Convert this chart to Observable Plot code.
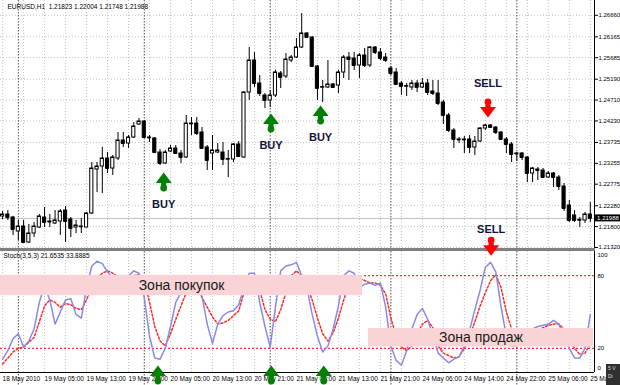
<!DOCTYPE html>
<html><head><meta charset="utf-8">
<script src="https://cdn.jsdelivr.net/npm/d3@7"></script>
<script src="https://cdn.jsdelivr.net/npm/@observablehq/plot@0.6"></script>
<style>
body{margin:0;background:#fff;}
#wrap{position:relative;width:620px;height:385px;overflow:hidden;background:#fff;font-family:"Liberation Sans",Arial,sans-serif;}
#wrap svg{position:absolute;left:0;overflow:visible;}
#sep{position:absolute;left:0;top:248px;width:595px;height:3px;background:#808080;}
#corner{position:absolute;left:606px;top:364px;width:14px;height:21px;background:#303030;color:#ddd;font-size:5px;line-height:8px;padding-left:2px;box-sizing:border-box;}
</style></head><body><div id="wrap"></div>
<script>
// ---- data (EURUSD H1, bars 18 May 21:00 .. 25 May 14:00) ----
const opens = [1.22032,1.22078,1.22009,1.21687,1.21802,1.21434,1.21641,1.21779,1.22009,1.21917,
1.21871,1.21917,1.2217,1.21963,1.21779,1.21802,1.21779,1.22101,1.23113,1.23182,
1.23366,1.23136,1.23366,1.2378,1.23711,1.23849,1.24148,1.24217,1.23849,1.23826,
1.23504,1.23251,1.23527,1.23596,1.23481,1.23389,1.24171,1.24171,1.23964,1.23619,
1.23481,1.23504,1.23504,1.23343,1.23343,1.23688,1.23389,1.24884,1.2562,1.25091,
1.24815,1.247,1.24815,1.25321,1.25252,1.2562,1.25689,1.25919,1.26241,1.26149,
1.25482,1.24999,1.24999,1.25068,1.25045,1.25344,1.25689,1.25666,1.25505,1.25735,
1.25505,1.25919,1.25804,1.25689,1.25436,1.25344,1.25091,1.25022,1.24999,1.25091,
1.24999,1.25091,1.24907,1.24861,1.24654,1.24355,1.2401,1.23803,1.23803,1.23803,
1.23619,1.23757,1.24056,1.24125,1.24079,1.23964,1.23803,1.23688,1.23481,1.23481,
1.23389,1.23021,1.23113,1.2309,1.22929,1.23021,1.22929,1.22722,1.22285,1.22055,
1.2194,1.2194,1.22078];
const highs = [1.22147,1.2217,1.22032,1.2194,1.2194,1.21848,1.21894,1.22078,1.22239,1.22078,
1.2217,1.22193,1.22262,1.22009,1.2194,1.21986,1.22124,1.23274,1.23274,1.23619,
1.23504,1.23435,1.23964,1.23964,1.23895,1.24194,1.24286,1.2424,1.23895,1.23849,
1.23573,1.2355,1.23665,1.23665,1.2355,1.24355,1.24309,1.24309,1.24079,1.23665,
1.23895,1.23711,1.23734,1.2355,1.23711,1.23757,1.24907,1.25919,1.25804,1.25275,
1.24861,1.2493,1.2539,1.25367,1.25781,1.25735,1.26126,1.26701,1.26264,1.26172,
1.25505,1.2516,1.2562,1.25091,1.2539,1.25735,1.25804,1.25804,1.25781,1.25896,
1.25942,1.25942,1.25896,1.25781,1.25482,1.25436,1.25137,1.25091,1.2516,1.2516,
1.25206,1.25183,1.2516,1.2516,1.247,1.24401,1.24056,1.23849,1.23872,1.23895,
1.23872,1.24079,1.24148,1.24148,1.24102,1.23987,1.23849,1.23734,1.23504,1.23504,
1.23412,1.23159,1.23159,1.23136,1.23067,1.23044,1.22975,1.22791,1.224,1.2217,
1.22009,1.22124,1.22354];
const lows = [1.21963,1.2194,1.21595,1.2148,1.21411,1.21411,1.21549,1.21756,1.21779,1.21779,
1.21848,1.21595,1.21434,1.21549,1.21641,1.21641,1.21779,1.22078,1.22584,1.22561,
1.23021,1.22975,1.2332,1.23619,1.23596,1.23826,1.24125,1.23826,1.23734,1.23481,
1.23205,1.23228,1.23504,1.23458,1.23251,1.23366,1.23895,1.23895,1.23573,1.2309,
1.2309,1.23481,1.23205,1.22929,1.23274,1.23389,1.23366,1.247,1.24999,1.24792,
1.24516,1.24539,1.24769,1.24976,1.25206,1.25574,1.25666,1.25896,1.26126,1.25459,
1.247,1.24654,1.24976,1.24976,1.24861,1.25206,1.2516,1.2539,1.25206,1.25459,
1.25459,1.25758,1.2562,1.25574,1.25275,1.25045,1.24815,1.24792,1.2493,1.24884,
1.24976,1.24815,1.24815,1.24585,1.24148,1.23964,1.23596,1.23711,1.23481,1.23481,
1.23435,1.23734,1.2401,1.24056,1.23918,1.2378,1.23481,1.23274,1.23297,1.2332,
1.22814,1.22814,1.2286,1.22906,1.22906,1.22699,1.2263,1.22147,1.21894,1.21894,
1.21779,1.21871,1.21894];
const closes = [1.22078,1.22009,1.21733,1.21802,1.21434,1.21641,1.21802,1.22032,1.21894,1.21905,
1.2194,1.22147,1.21917,1.21756,1.21825,1.21795,1.22101,1.23136,1.23182,1.23366,
1.23136,1.23389,1.2378,1.23711,1.23849,1.24102,1.24217,1.23849,1.23838,1.23504,
1.23251,1.23504,1.23596,1.23481,1.23389,1.24171,1.2416,1.23941,1.23596,1.2332,
1.2355,1.2355,1.23343,1.23355,1.23688,1.23412,1.24884,1.2562,1.25091,1.24861,
1.247,1.24815,1.25344,1.25229,1.25643,1.25689,1.25919,1.26241,1.26149,1.25482,
1.24976,1.2501,1.25068,1.24999,1.25344,1.25689,1.25643,1.25505,1.25735,1.25505,
1.25919,1.25804,1.25666,1.2562,1.25321,1.25068,1.25022,1.25033,1.25091,1.24999,
1.25091,1.24884,1.24861,1.24631,1.24355,1.2401,1.23803,1.23792,1.23792,1.23619,
1.23757,1.24056,1.24125,1.24079,1.23964,1.23803,1.23688,1.23458,1.2347,1.23389,
1.23021,1.23136,1.2309,1.22929,1.23021,1.22929,1.22722,1.22216,1.2194,1.2194,
1.21952,1.22078,1.21988];
const stochK = [11,18,28,32,21,26,36,58,72,60,
40,50,60,61,48,45,70,88,92,90,
83,78,76,78,80,84,82,62,30,12,
11,20,38,58,66,75,78,72,63,40,
24,40,47,50,51,56,70,82,82,58,
38,21,54,84,88,89,91,80,70,48,
30,17,22,36,55,80,84,82,70,73,
74,72,74,54,22,10,6,18,36,48,
53,44,30,16,12,8,11,13,22,35,
52,68,87,91,83,54,30,22,22,28,
33,36,38,39,40,43,40,30,20,12,
12,20,48];
const stochD = [7,12,17,20,21,25,29,42,55,60,
58,54,57,56,53,52,60,70,78,82,
84,82,79,78,78,80,81,75,58,38,
26,22,32,44,55,66,74,70,62,54,
46,40,41,43,47,51,66,76,76,68,
52,44,42,52,66,80,84,80,72,60,
45,32,26,33,45,60,72,78,78,76,
74,74,72,65,45,30,21,18,22,32,
40,43,37,22,16,14,12,13,20,30,
42,55,66,76,81,70,50,36,28,24,
28,32,35,37,39,40,40,36,28,20,
15,16,24];
const priceTicks = [1.26660,1.26165,1.25685,1.25190,1.24710,1.24230,1.23735,1.23255,1.22775,1.22280,1.21800,1.21320];
const timeBars = [0,8,16,24,32,40,48,56,64,72,80,88,96,104,112];
const timeLabels = ["18 May 2010","19 May 05:00","19 May 13:00","19 May 21:00","20 May 05:00","20 May 13:00","20 May 21:00","21 May 05:00","21 May 13:00","21 May 21:00","24 May 06:00","24 May 14:00","24 May 22:00","25 May 06:00","25 May 14:00"];
const gridBars = [0,4,8,12,16,20,24,28,32,36,40,44,48,52,56,60,64,68,72,76,80,84,88,92,96,100,104,108,112];
const daySeparators = [3,27,51,74,98];
const stochLevels = [80,20];
const headerValues = [1.21823,1.22004,1.21748,1.21988];
const stochParams = [3,5,3];
const stochValues = [21.6535,33.8885];
const buyTop = [{bar:30.7, price:1.23044},{bar:51.15, price:1.24401},{bar:60.6, price:1.24585}];
const sellTop = [{bar:92.5, price:1.24309}];
const buyStoch = [{bar:29.6, v:5.8},{bar:51.2, v:5.8},{bar:61.2, v:5.8}];
const sellStoch = [{bar:93.1, v:96.5}];
const zones = [{label:"Зона покупок", x1:-0.4, x2:68.6, v1:63.5, v2:80.3},
               {label:"Зона продаж", x1:69.7, x2:112.6, v1:21, v2:36.3}];

// ---- drawing ----
const xDomain = [-0.4, 112.8];
const bars = opens.map((o,i)=>({i, o, h:highs[i], l:lows[i], c:closes[i]}));
const upBars = bars.filter(d=>d.c>=d.o), downBars = bars.filter(d=>d.c<d.o);
const bw = 0.3;
const lastClose = closes[closes.length-1];
const font = "Liberation Sans, Arial, sans-serif";

const arrowUp = {draw(ctx){ctx.moveTo(0,0);ctx.lineTo(8,10.5);ctx.lineTo(2.6,10.5);ctx.lineTo(2.6,15.5);ctx.lineTo(-2.6,15.5);ctx.lineTo(-2.6,10.5);ctx.lineTo(-8,10.5);ctx.closePath();ctx.moveTo(3.4,15.5);ctx.arc(0,15.5,3.4,0,2*Math.PI);}};
const arrowDown = {draw(ctx){ctx.moveTo(0,0);ctx.lineTo(-8,-10.5);ctx.lineTo(-2.6,-10.5);ctx.lineTo(-2.6,-15.5);ctx.lineTo(2.6,-15.5);ctx.lineTo(2.6,-10.5);ctx.lineTo(8,-10.5);ctx.closePath();ctx.moveTo(3.4,-15.5);ctx.arc(0,-15.5,3.4,0,2*Math.PI);}};

const priceChart = Plot.plot({
  width:620, height:250, marginTop:0, marginBottom:0, marginLeft:0, marginRight:26,
  x:{domain:xDomain, axis:null},
  y:{domain:[1.2125,1.27]},
  style:{fontFamily:font, fontSize:"6px", background:"#fff", color:"#000"},
  marks:[
    Plot.ruleX(gridBars, {stroke:"#c4c4c4", strokeDasharray:"1,2"}),
    Plot.ruleY(priceTicks, {stroke:"#c4c4c4", strokeDasharray:"1,2"}),
    Plot.ruleX(daySeparators, {stroke:"#505050", strokeDasharray:"1.5,1.5"}),
    Plot.ruleY([lastClose], {stroke:"#c0c0c0"}),
    Plot.ruleX(bars, {x:"i", y1:"l", y2:"h", stroke:"#000"}),
    Plot.rect(upBars, {x1:d=>d.i-bw, x2:d=>d.i+bw, y1:"o", y2:"c", fill:"#fff", stroke:"#000"}),
    Plot.rect(downBars, {x1:d=>d.i-bw, x2:d=>d.i+bw, y1:"o", y2:"c", fill:"#000", stroke:"#000"}),
    Plot.ruleY(bars, {y:"c", x1:d=>d.i-bw, x2:d=>d.i+bw, stroke:"#000"}),
    Plot.ruleX([xDomain[1]], {stroke:"#000"}),
    Plot.axisY(priceTicks, {anchor:"right", tickSize:3, tickPadding:1, tickFormat:d=>d.toFixed(5), fontSize:6}),
    Plot.rect([lastClose], {x1:()=>113, x2:()=>118, y1:d=>d-0.0008, y2:d=>d+0.0008, fill:"#000"}),
    Plot.text([lastClose], {x:()=>113.3, y:d=>d, text:d=>d.toFixed(5), fill:"#fff", textAnchor:"start", fontSize:6}),
    Plot.text(["EURUSD,H1  " + headerValues.map(v=>v.toFixed(5)).join(" ")], {frameAnchor:"top-left", dx:7, dy:4, lineAnchor:"top", fontSize:6.5}),
    Plot.dot(buyTop, {x:"bar", y:"price", symbol:arrowUp, r:5, fill:"#008000"}),
    Plot.text(buyTop, {x:"bar", y:"price", text:()=>"BUY", dy:32, fontWeight:"bold", fontSize:11, fill:"#141438"}),
    Plot.dot(sellTop, {x:"bar", y:"price", symbol:arrowDown, r:5, fill:"#ff0000"}),
    Plot.text(sellTop, {x:"bar", y:"price", text:()=>"SELL", dy:-34, fontWeight:"bold", fontSize:11, fill:"#141438"})
  ]
});
priceChart.style.top = "0px";

const stochChart = Plot.plot({
  width:620, height:135, marginTop:1, marginBottom:13, marginLeft:0, marginRight:26,
  x:{domain:xDomain, axis:null},
  y:{domain:[0,100], axis:null},
  style:{fontFamily:font, fontSize:"6px", background:"transparent", color:"#000"},
  marks:[
    Plot.ruleX(gridBars, {stroke:"#c4c4c4", strokeDasharray:"1,2"}),
    Plot.ruleX(daySeparators, {y1:()=>100, y2:()=>-10.8, stroke:"#505050", strokeDasharray:"1.5,1.5"}),
    Plot.ruleY(stochLevels, {stroke:"#ff0000", strokeDasharray:"2,2"}),
    Plot.line(stochD, {x:(d,i)=>i, y:d=>d, stroke:"#ff2a2a", strokeDasharray:"2,2"}),
    Plot.line(stochK, {x:(d,i)=>i, y:d=>d, stroke:"#8a8ae6"}),
    Plot.rect(zones, {x1:"x1", x2:"x2", y1:"v1", y2:"v2", fill:"#f9d3d5"}),
    Plot.text(zones, {x:d=>(d.x1+d.x2)/2, y:d=>(d.v1+d.v2)/2, text:"label", fontSize:14, fill:"#1a1a1a"}),
    Plot.ruleY([0], {stroke:"#000"}),
    Plot.ruleX([xDomain[1]], {stroke:"#000"}),
    Plot.text(stochLevels, {y:d=>d, text:d=>String(d), frameAnchor:"right", dx:3, textAnchor:"start", fontSize:6}),
    Plot.text([100], {y:d=>d, text:d=>String(d), frameAnchor:"right", dx:3, dy:4, textAnchor:"start", fontSize:6}),
    Plot.text([0], {y:d=>d, text:d=>String(d), frameAnchor:"right", dx:3, dy:-4, textAnchor:"start", fontSize:6}),
    Plot.text(["Stoch(" + stochParams.join(",") + ") " + stochValues.map(v=>v.toFixed(4)).join(" ")], {frameAnchor:"top-left", dx:3, dy:2, lineAnchor:"top", fontSize:6.5}),
    Plot.text(timeBars, {x:d=>d, y:()=>0, text:(d,i)=>timeLabels[i], dy:6.5, textAnchor:"start", fontSize:6.5}),
    Plot.dot(buyStoch, {x:"bar", y:"v", symbol:arrowUp, r:5, fill:"#008000"}),
    Plot.dot(sellStoch, {x:"bar", y:"v", symbol:arrowDown, r:5, fill:"#ff0000"}),
    Plot.text(sellStoch, {x:"bar", y:"v", text:()=>"SELL", dy:-26, fontWeight:"bold", fontSize:11, fill:"#141438"})
  ]
});
stochChart.style.top = "250px";

const wrap = document.getElementById("wrap");
wrap.appendChild(priceChart);
const sep = document.createElement("div"); sep.id = "sep"; wrap.appendChild(sep);
wrap.appendChild(stochChart);
const corner = document.createElement("div"); corner.id = "corner"; corner.innerHTML = "5 V<br>Di"; wrap.appendChild(corner);
</script>
</body></html>
